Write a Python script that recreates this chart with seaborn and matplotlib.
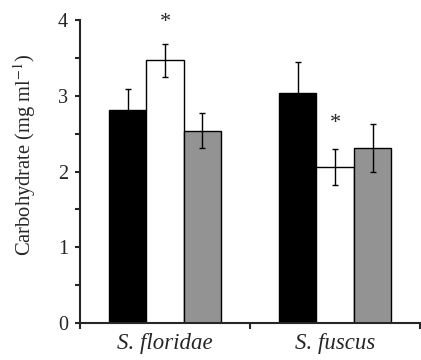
import pandas as pd
import numpy as np
import matplotlib
import matplotlib.pyplot as plt
import seaborn as sns

matplotlib.use('Agg')

# data
species = ['S. floridae', 'S. fuscus']
treatments = ['A', 'B', 'C']
means = {'A': [2.81, 3.04], 'B': [3.47, 2.06], 'C': [2.54, 2.31]}
errs = {'A': [0.28, 0.41], 'B': [0.22, 0.24], 'C': [0.23, 0.32]}
# asterisks (significance) above treatment B, y position of each
star_y = {'B': [3.97, 2.64]}
colors = ['black', 'white', '#939393']

rows = []
for t in treatments:
    for i, s in enumerate(species):
        rows.append({'species': s, 'treatment': t, 'value': means[t][i], 'err': errs[t][i]})
df = pd.DataFrame(rows)

sns.set_style('ticks')
plt.rcParams['font.family'] = ['Liberation Serif', 'DejaVu Serif']
plt.rcParams['mathtext.fontset'] = 'stix'

fig = plt.figure(figsize=(4.21, 3.60), dpi=100)
ax = fig.add_axes([0.19, 0.103, 0.808, 0.841])

sns.barplot(data=df, x='species', y='value', hue='treatment', order=species,
            hue_order=treatments, palette=colors, width=0.66, gap=0,
            edgecolor='black', linewidth=1.0, errorbar=None, legend=False, ax=ax)

# error bars and asterisks
for t, cont in zip(treatments, ax.containers):
    for i, bar in enumerate(cont):
        xc = bar.get_x() + bar.get_width() / 2
        h = bar.get_height()
        ax.errorbar(xc, h, yerr=errs[t][i], color='black', capsize=2.5,
                    elinewidth=1.0, capthick=1.0, zorder=5)
        if t in star_y:
            ax.text(xc, star_y[t][i], '*', ha='center', va='center',
                    fontsize=16, clip_on=False)

ax.set_ylim(0, 4)
ax.set_xlim(-0.5, 1.5)
ax.set_yticks([0, 1, 2, 3, 4])
ax.set_yticks(np.arange(0.5, 4, 1), minor=True)
ax.set_xticks([0, 1])
ax.set_xticklabels(species, style='italic')
ax.set_xticks([-0.5, 0.5, 1.5], minor=True)
ax.tick_params(axis='x', which='major', length=0, labelsize=16.5, pad=7)
ax.tick_params(axis='x', which='minor', length=4, width=1.5)
ax.tick_params(axis='y', which='both', length=3.5, width=1.5, labelsize=14.5, pad=5)
ax.set_xlabel('')
ax.set_ylabel('Carbohydrate (mg ml$^{-1}$)', fontsize=14.8)
ax.yaxis.set_label_coords(-0.123, 0.555)
sns.despine(ax=ax)
for sp in ['left', 'bottom']:
    ax.spines[sp].set_linewidth(1.5)

fig.savefig('out.png', dpi=100)
